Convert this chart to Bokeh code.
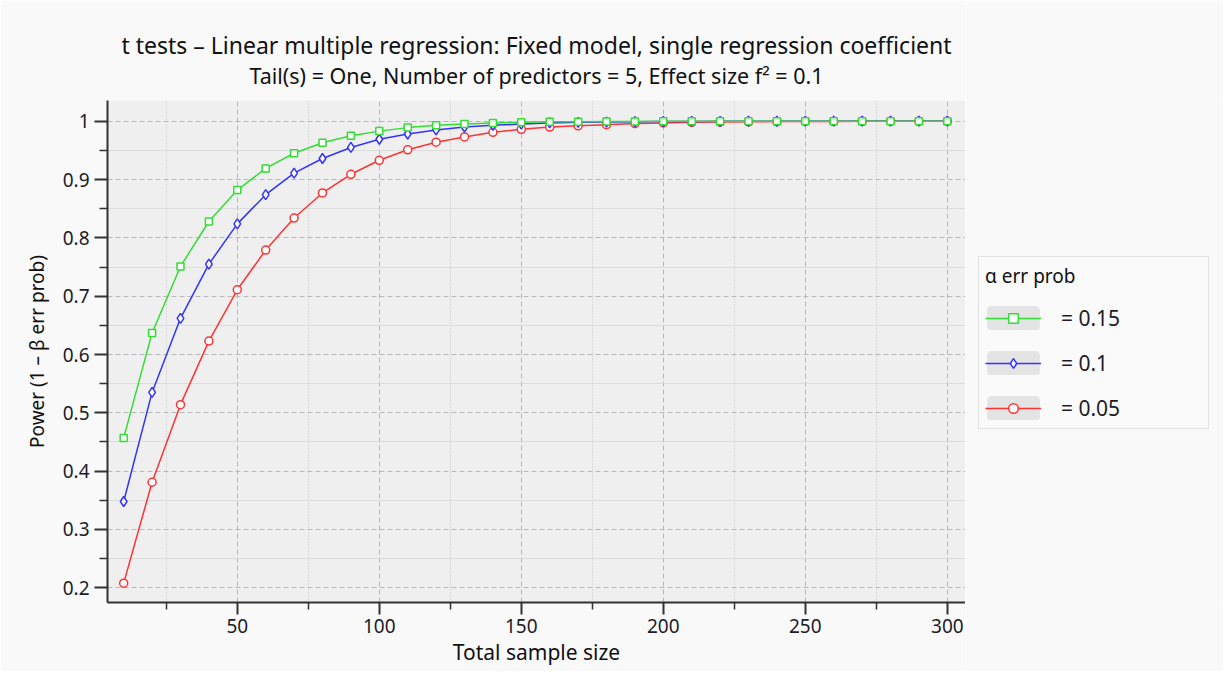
from bokeh.plotting import figure
from bokeh.layouts import row
from bokeh.models import (ColumnDataSource, FixedTicker, Title, Legend, LegendItem,
                          CustomJSTickFormatter, Range1d)
from bokeh.embed import file_html
from bokeh.resources import INLINE

# ---- data ----
sample_size = [10, 20, 30, 40, 50, 60, 70, 80, 90, 100, 110, 120, 130, 140, 150,
               160, 170, 180, 190, 200, 210, 220, 230, 240, 250, 260, 270, 280, 290, 300]
power_a015 = [0.457, 0.637, 0.751, 0.828, 0.882, 0.919, 0.945, 0.963, 0.975, 0.983,
              0.989, 0.993, 0.995, 0.997, 0.998, 0.999, 0.999, 0.9995, 0.9997, 0.9998,
              0.9999, 0.9999, 1.0, 1.0, 1.0, 1.0, 1.0, 1.0, 1.0, 1.0]
power_a010 = [0.348, 0.535, 0.662, 0.755, 0.824, 0.874, 0.911, 0.936, 0.955, 0.969,
              0.978, 0.985, 0.990, 0.993, 0.995, 0.997, 0.998, 0.9985, 0.999, 0.9995,
              0.9997, 0.9998, 0.9999, 0.9999, 1.0, 1.0, 1.0, 1.0, 1.0, 1.0]
power_a005 = [0.208, 0.381, 0.514, 0.623, 0.711, 0.779, 0.834, 0.877, 0.909, 0.933,
              0.951, 0.964, 0.973, 0.981, 0.986, 0.990, 0.992, 0.994, 0.996, 0.997,
              0.998, 0.9985, 0.999, 0.9993, 0.9995, 0.9997, 0.9998, 0.9999, 0.9999, 1.0]
legend_labels = ["= 0.15", "= 0.1", "= 0.05"]
x_ticks = [50, 100, 150, 200, 250, 300]
x_minor = [25, 75, 125, 175, 225, 275]
y_ticks = [0.2, 0.3, 0.4, 0.5, 0.6, 0.7, 0.8, 0.9, 1.0]
y_minor = [0.15, 0.25, 0.35, 0.45, 0.55, 0.65, 0.75, 0.85, 0.95]

FONT = "Noto Sans"
TXT = "#1c1c28"
BG = "#f9f9f9"

p = figure(width=965, height=671, output_backend="svg", toolbar_location=None,
           x_range=Range1d(4.3, 306.4), y_range=Range1d(0.1748, 1.0355),
           min_border_left=107, min_border_top=100,
           min_border_bottom=69, min_border_right=0, title=None)
p.background_fill_color = "#efefef"
p.border_fill_color = BG
p.outline_line_color = None

# titles
sub = Title(text="Tail(s) = One, Number of predictors = 5, Effect size f\u00b2 = 0.1",
            align="center", text_font=FONT, text_font_size="21.5px",
            text_font_style="normal", text_color="#111111", standoff=21)
main = Title(text="t tests \u2013 Linear multiple regression: Fixed model, single regression coefficient",
             align="center", text_font=FONT, text_font_size="23px",
             text_font_style="normal", text_color="#111111", standoff=-25)
p.add_layout(sub, "above")
p.add_layout(main, "above")

# axes
for ax in (p.xaxis[0], p.yaxis[0]):
    ax.axis_line_color = "#333333"
    ax.axis_line_width = 2
    ax.major_tick_line_color = "#333333"
    ax.major_tick_line_width = 2
    ax.minor_tick_line_color = "#333333"
    ax.minor_tick_line_width = 1.5
    ax.major_label_text_font = FONT
    ax.major_label_text_font_size = "19px"
    ax.major_label_text_color = TXT
    ax.axis_label_text_font = FONT
    ax.axis_label_text_font_style = "normal"
    ax.axis_label_text_color = "#111111"
    ax.major_tick_in = 0
    ax.minor_tick_in = 0

p.xaxis.axis_label_text_font_size = "21px"
p.yaxis.axis_label_text_font_size = "19px"
p.xaxis.ticker = FixedTicker(ticks=x_ticks, minor_ticks=x_minor)
p.yaxis.ticker = FixedTicker(ticks=y_ticks, minor_ticks=y_minor)
p.yaxis.formatter = CustomJSTickFormatter(code="return String(Math.round(tick*10)/10);")
p.xaxis.major_tick_out = 12
p.xaxis.minor_tick_out = 7
p.yaxis.major_tick_out = 13
p.yaxis.minor_tick_out = 8
p.xaxis.major_label_standoff = 4
p.yaxis.major_label_standoff = 5
p.xaxis.axis_label = "Total sample size"
p.yaxis.axis_label = "Power (1 \u2013 \u03b2 err prob)"
p.xaxis.axis_label_standoff = 2
p.yaxis.axis_label_standoff = 10

# grids
p.xgrid.grid_line_color = "#b8b8b8"
p.xgrid.grid_line_dash = "5 3"
p.xgrid.minor_grid_line_color = "#c4c4c4"
p.xgrid.minor_grid_line_dash = "1 2"
p.ygrid.grid_line_color = "#b8b8b8"
p.ygrid.grid_line_dash = "5 3"
p.ygrid.minor_grid_line_color = "#dcdcdc"

# legend panel (separate figure to the right of the plot)
lf = figure(width=258, height=671, output_backend="svg", toolbar_location=None,
            x_range=Range1d(-2, -1), y_range=Range1d(-2, -1),
            x_axis_type=None, y_axis_type=None, min_border=0, title=None)
lf.background_fill_color = BG
lf.border_fill_color = BG
lf.outline_line_color = None

# series
series = [
    (power_a005, "#ff3333", "circle", 8, legend_labels[2]),
    (power_a010, "#3333ff", "diamond", 10, legend_labels[1]),
    (power_a015, "#33dd33", "square", 7, legend_labels[0]),
]
items = {}
for ys, col, mk, sz, lab in series:
    src = ColumnDataSource(dict(x=sample_size, y=ys))
    p.line("x", "y", source=src, line_color=col, line_width=1.5)
    p.scatter("x", "y", source=src, marker=mk, size=sz, fill_color="white",
              line_color=col, line_width=1.5)
    # legend proxies in the legend panel (data lies outside its ranges)
    bg = lf.rect("x", "y", width=1, height=1, source=src, fill_color="#e4e4e4",
                 line_color="#e4e4e4", line_width=8)
    ln = lf.line("x", "y", source=src, line_color=col, line_width=1.5)
    sc = lf.scatter("x", "y", source=src, marker=mk, size=sz, fill_color="white",
                    line_color=col, line_width=1.5)
    items[lab] = LegendItem(label=lab, renderers=[bg, ln, sc])

legend = Legend(items=[items[l] for l in legend_labels], location=(13, 173),
                title="\u03b1 err prob", title_text_font=FONT, title_text_font_size="19px",
                title_text_font_style="normal", title_text_color="#111111",
                title_standoff=15,
                label_text_font=FONT, label_text_font_size="21px", label_text_color=TXT,
                glyph_width=56, glyph_height=24, spacing=17, padding=6,
                label_standoff=20, label_width=141, margin=0,
                border_line_color="#c8c8c8", border_line_width=1.5,
                background_fill_color="#fafafa", background_fill_alpha=1.0)
lf.add_layout(legend, "center")

layout = row(p, lf)
open("out.html", "w").write(file_html(layout, INLINE))
